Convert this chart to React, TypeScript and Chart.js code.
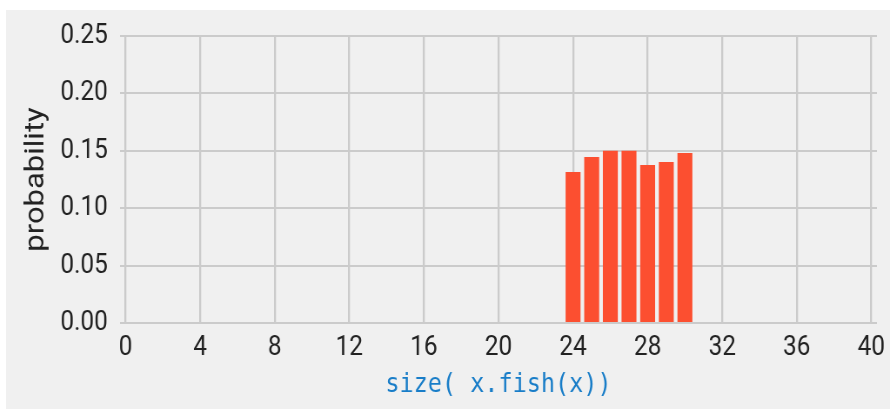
import React, { useEffect, useRef } from "react";
import { Chart, registerables } from "chart.js";

Chart.register(...registerables);

const sizes = [24, 25, 26, 27, 28, 29, 30];
const probabilities = [0.1316, 0.1446, 0.15, 0.15, 0.1377, 0.1403, 0.1481];
const xTicks = [0, 4, 8, 12, 16, 20, 24, 28, 32, 36, 40];
const yTicks = [0, 0.05, 0.1, 0.15, 0.2, 0.25];
const xLabel = "size( x.fish(x))";
const yLabel = "probability";

const FONT = "Roboto, sans-serif";
const CANVAS_W = 1016;
const CANVAS_H = 399;
const SHOWN_W = 884;

const bgPlugin = {
  id: "bg",
  beforeDraw(chart: any) {
    const ctx = chart.ctx;
    ctx.save();
    ctx.fillStyle = "#f0f0f0";
    ctx.fillRect(0, 0, chart.width, chart.height);
    ctx.restore();
  },
};

export default function App() {
  const ref = useRef<HTMLCanvasElement | null>(null);
  useEffect(() => {
    if (!ref.current) return;
    const chart = new Chart(ref.current, {
      type: "bar",
      data: {
        datasets: [
          {
            data: sizes.map((s, i) => ({ x: s, y: probabilities[i] })),
            backgroundColor: "#fc4f30",
            borderWidth: 0,
            barPercentage: 0.8,
            categoryPercentage: 1,
          },
        ],
      },
      options: {
        animation: false,
        responsive: false,
        devicePixelRatio: 1,
        layout: { padding: { top: 26, right: 15, bottom: 0, left: 0 } },
        plugins: { legend: { display: false }, tooltip: { enabled: false } },
        scales: {
          x: {
            type: "linear",
            min: -0.3,
            max: 40.3,
            offset: false,
            grid: { color: "#cbcbcb", lineWidth: 2.3, drawTicks: false, offset: false },
            border: { display: false },
            afterBuildTicks(scale: any) {
              scale.ticks = xTicks.map((v) => ({ value: v }));
            },
            ticks: {
              padding: 8,
              color: "#222222",
              font: { family: FONT, size: 28 },
              maxRotation: 0,
              autoSkip: false,
              callback: (v: any) => String(v),
            },
            title: {
              display: true,
              text: xLabel,
              color: "#187dc8",
              font: { family: "'DejaVu Sans Mono', monospace", size: 27 },
              padding: { top: 0, bottom: 8 },
            },
            afterFit(scale: any) {
              scale.height = 86;
              scale.paddingLeft = 0;
              scale.paddingRight = 0;
            },
          },
          y: {
            min: 0,
            max: 0.25,
            grid: { color: "#cbcbcb", lineWidth: 2, drawTicks: false },
            border: { display: false },
            afterBuildTicks(scale: any) {
              scale.ticks = yTicks.map((v) => ({ value: v }));
            },
            ticks: {
              padding: 14,
              color: "#222222",
              font: { family: FONT, size: 28 },
              callback: (v: any) => Number(v).toFixed(2),
            },
            title: {
              display: true,
              text: yLabel,
              color: "#222222",
              font: { family: FONT, size: 31 },
              padding: { top: 17, bottom: 0 },
            },
            afterFit(scale: any) {
              scale.width = 131;
              scale.paddingTop = 0;
              scale.paddingBottom = 0;
            },
          },
        },
      },
      plugins: [bgPlugin],
    });
    return () => chart.destroy();
  }, []);
  return (
    <div
      style={{
        position: "absolute",
        left: 6,
        top: 10,
        width: CANVAS_W,
        height: CANVAS_H,
        transform: `scaleX(${SHOWN_W / CANVAS_W})`,
        transformOrigin: "0 0",
      }}
    >
      <canvas ref={ref} width={CANVAS_W} height={CANVAS_H} style={{ display: "block" }} />
    </div>
  );
}
